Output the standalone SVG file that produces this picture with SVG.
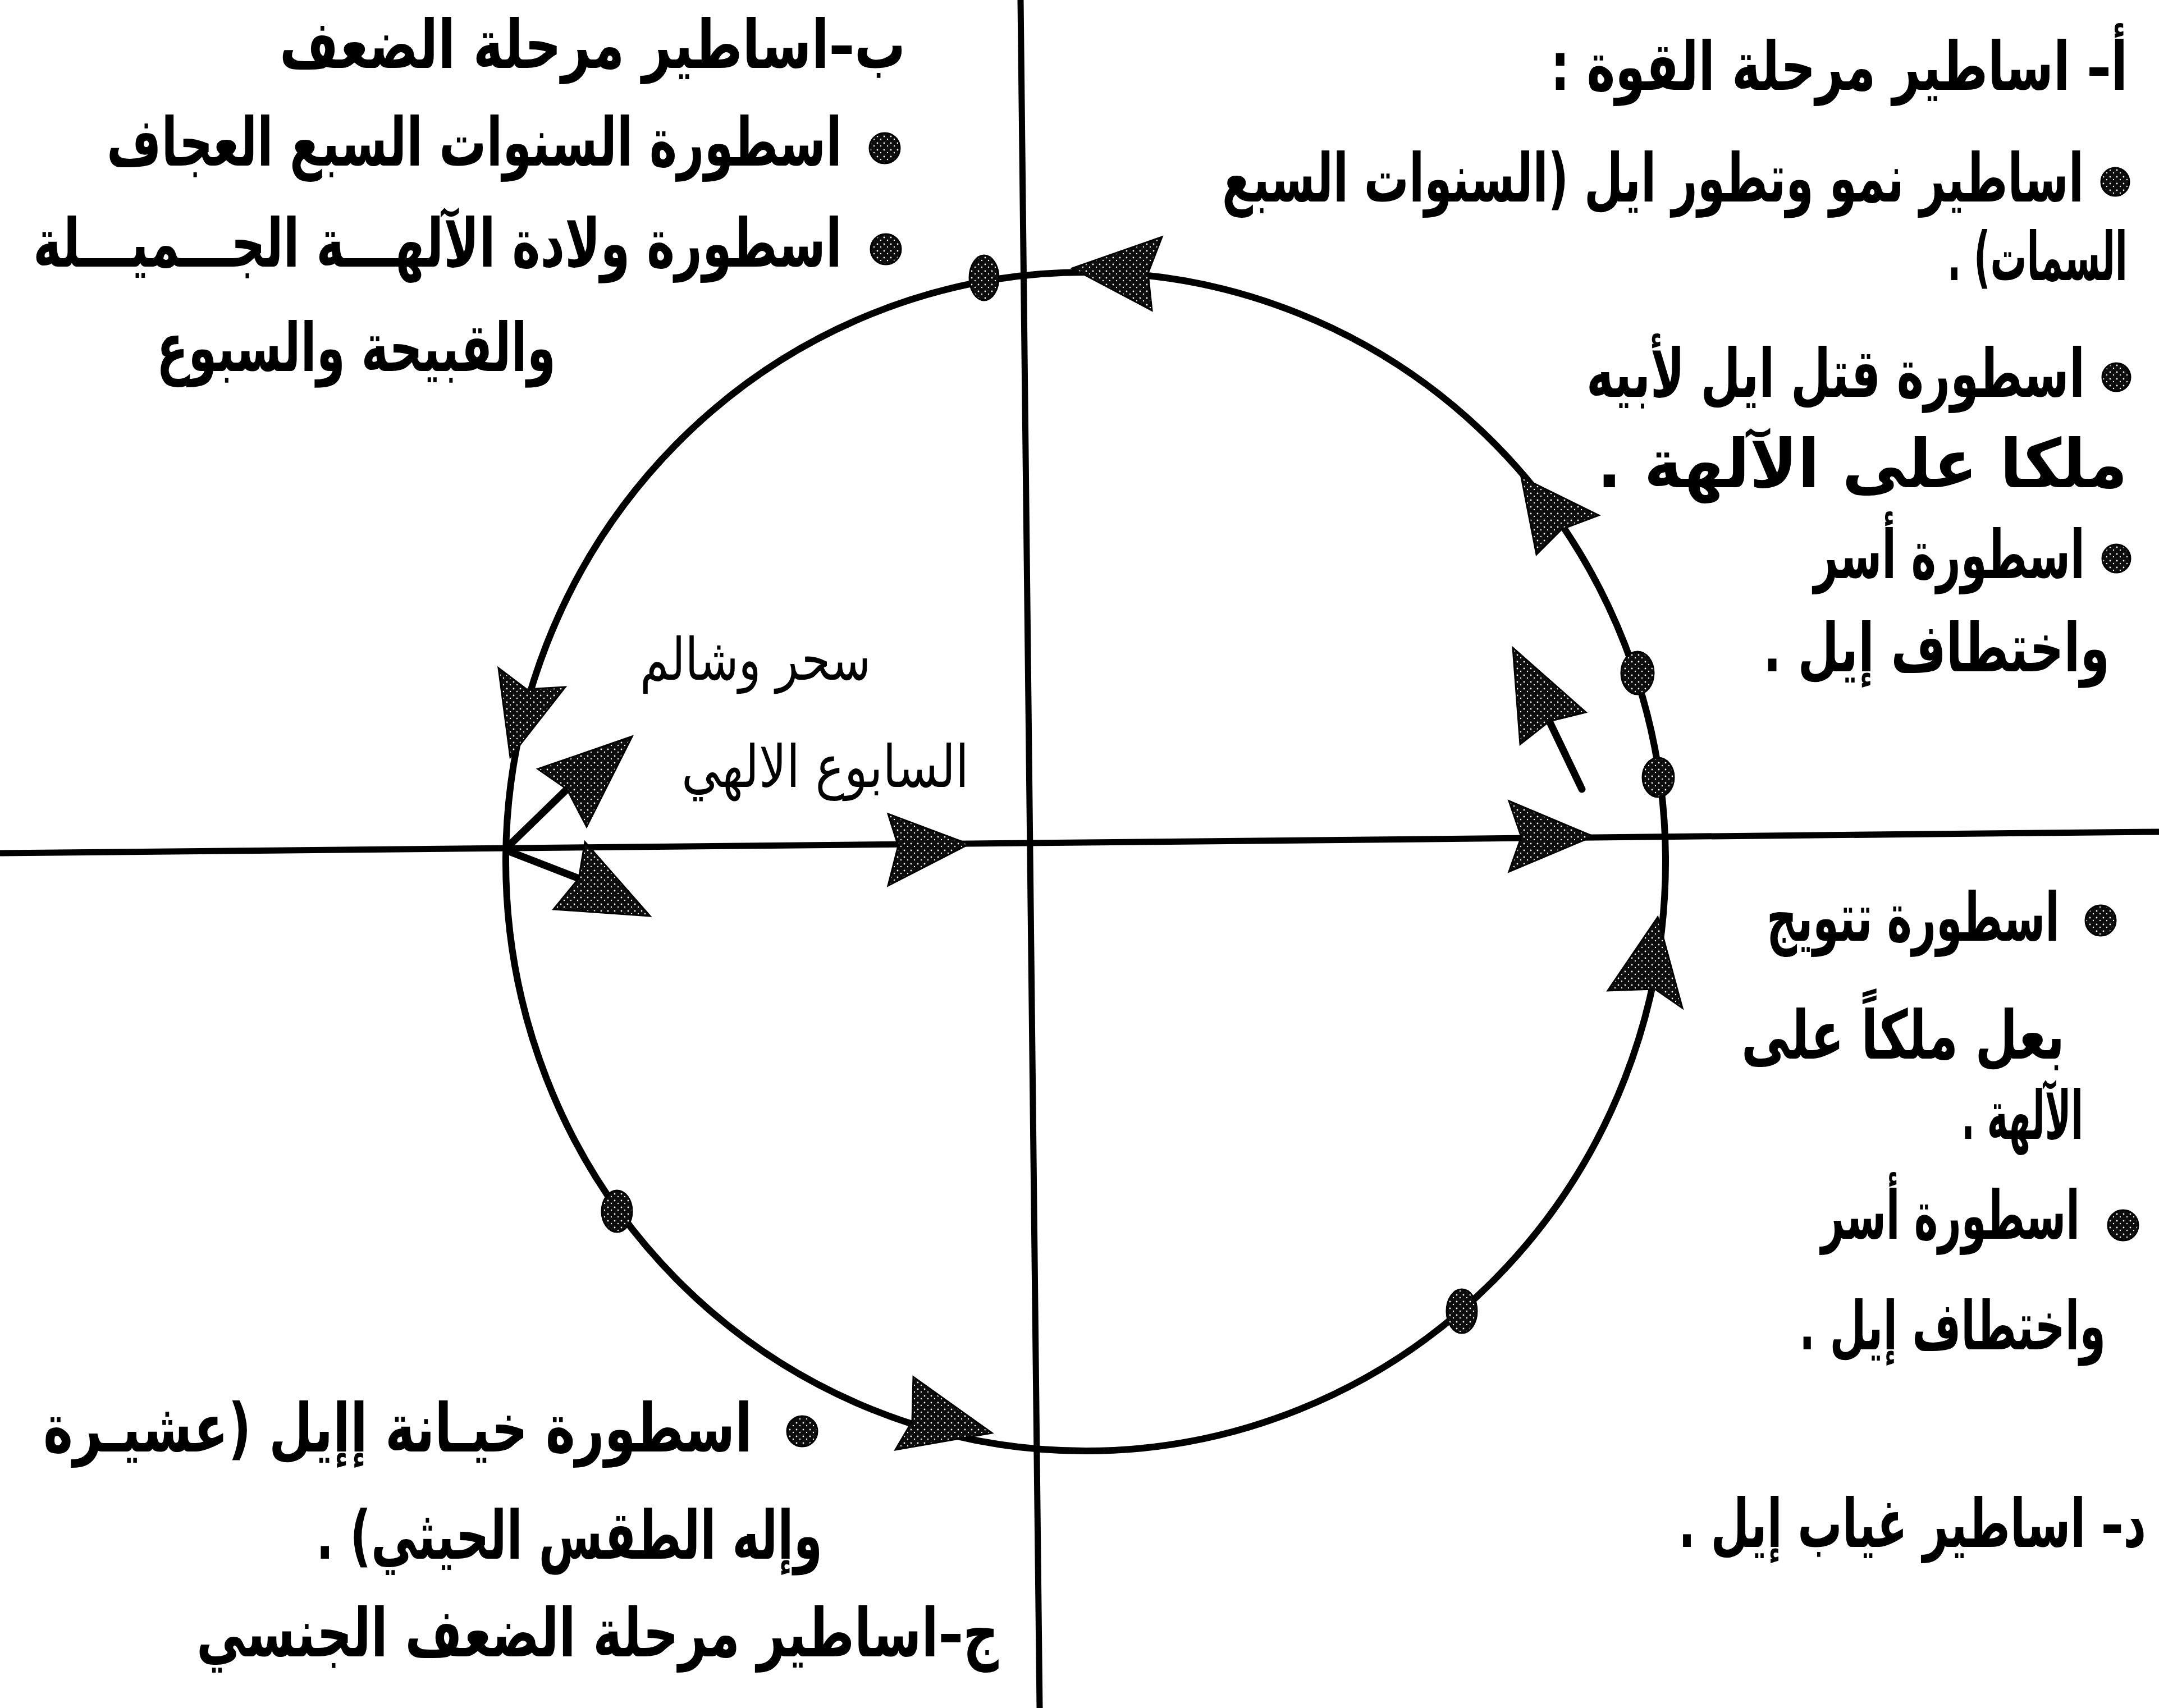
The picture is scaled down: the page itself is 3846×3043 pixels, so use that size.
<svg xmlns="http://www.w3.org/2000/svg" width="3846" height="3043" viewBox="0 0 3846 3043">
<defs>
<pattern id="stip" width="12" height="12" patternUnits="userSpaceOnUse">
<rect width="12" height="12" fill="#0d0d0d"/>
<circle cx="3" cy="3" r="1.4" fill="#fff"/>
<circle cx="9" cy="8" r="1.2" fill="#fff"/>
</pattern>
<style>
.ax{stroke:#000;stroke-width:11;fill:none;stroke-linecap:butt}
.cir{stroke:#000;stroke-width:12;fill:none}
.sh{stroke:#000;stroke-width:13;fill:none;stroke-linecap:round}
.ah{fill:url(#stip);stroke:#000;stroke-width:3;stroke-linejoin:miter}
.dot{fill:url(#stip);stroke:#000;stroke-width:3}
.t{font-family:"DejaVu Sans",sans-serif;font-size:120px;font-weight:bold;fill:#000;text-anchor:end}
.m{font-size:104px;font-weight:normal}
</style>
</defs>
<rect width="3846" height="3043" fill="#fff"/>
<g id="axes">
<line class="ax" x1="0" y1="1520" x2="3846" y2="1482"/>
<line class="ax" x1="1818" y1="0" x2="1852" y2="3043"/>
</g>
<g id="cycle">
<ellipse class="cir" cx="1934" cy="1535" rx="1033" ry="1050"/>
<ellipse class="dot" cx="1753" cy="495" rx="26" ry="40"/>
<ellipse class="dot" cx="2917" cy="1199" rx="29" ry="38"/>
<ellipse class="dot" cx="2954" cy="1385" rx="28" ry="35"/>
<ellipse class="dot" cx="2604" cy="2336" rx="27" ry="39"/>
<ellipse class="dot" cx="1099" cy="2158" rx="27" ry="37"/>
</g>
<g id="connectors">
<polygon class="ah" points="1910,478 2070,422 2045,487 2052,553"/>
<polygon class="ah" points="2710,850 2848,918 2782,943 2737,988"/>
<line class="sh" x1="2760" y1="1285" x2="2818" y2="1406"/>
<polygon class="ah" points="2695,1154 2825,1269 2760,1285 2708,1326"/>
<polygon class="ah" points="2838,1490 2688,1427 2710,1491 2688,1553"/>
<polygon class="ah" points="2953,1634 2997,1796 2948,1762 2864,1765"/>
<polygon class="ah" points="1767,2553 1595,2583 1625,2532 1627,2453"/>
<polygon class="ah" points="909,1349 888,1190 938,1228 1007,1224"/>
<line class="sh" x1="902" y1="1511" x2="1010" y2="1406"/>
<polygon class="ah" points="1126,1312 958,1370 1010,1406 1045,1473"/>
<line class="sh" x1="902" y1="1515" x2="1031" y2="1565"/>
<polygon class="ah" points="1158,1632 986,1620 1031,1565 1042,1500"/>
<polygon class="ah" points="1726,1504 1582,1578 1600,1507 1582,1450"/>
</g>
<g id="node-b">
<text class="t" x="1613" y="121" textLength="1115" lengthAdjust="spacingAndGlyphs">ب–اساطير مرحلة الضعف</text>
<circle class="dot" cx="1576" cy="264" r="27"/>
<text class="t" x="1500" y="295" textLength="1310" lengthAdjust="spacingAndGlyphs">اسطورة السنوات السبع العجاف</text>
<circle class="dot" cx="1578" cy="444" r="27"/>
<text class="t" x="1500" y="475" textLength="1441" lengthAdjust="spacingAndGlyphs">اسطورة ولادة الآلهـــة الجـــميـــلة</text>
<text class="t" x="990" y="661" textLength="711" lengthAdjust="spacingAndGlyphs">والقبيحة والسبوع</text>
</g>
<g id="node-a">
<text class="t" transform="matrix(1 0 0 1.611 3790 160)" x="0" y="0" font-size="74.5" style="font-size:74.5px" textLength="1028" lengthAdjust="spacingAndGlyphs">&#x200F;أ– اساطير مرحلة القوة :&#x200F;</text>
<circle class="dot" cx="3768" cy="324" r="25"/>
<text class="t" transform="matrix(1 0 0 1.683 3712 359)" x="0" y="0" style="font-size:71.3px" textLength="1535" lengthAdjust="spacingAndGlyphs">&#x200F;اساطير نمو وتطور ايل (السنوات السبع&#x200F;</text>
<text class="t" transform="matrix(1 0 0 2.017 3790 499)" x="0" y="0" style="font-size:59.5px" textLength="321" lengthAdjust="spacingAndGlyphs">&#x200F;السمات) .&#x200F;</text>
<circle class="dot" cx="3770" cy="672" r="25"/>
<text class="t" transform="matrix(1 0 0 1.615 3714 707)" x="0" y="0" style="font-size:74.3px" textLength="888" lengthAdjust="spacingAndGlyphs">اسطورة قتل ايل لأبيه</text>
<text class="t" transform="matrix(1 0 0 1.294 3790 868)" x="0" y="0" style="font-size:92.7px" textLength="945" lengthAdjust="spacingAndGlyphs">&#x200F;ملكا على الآلهة .&#x200F;</text>
<circle class="dot" cx="3770" cy="995" r="25"/>
<text class="t" transform="matrix(1 0 0 1.478 3714 1030)" x="0" y="0" style="font-size:81.2px" textLength="483" lengthAdjust="spacingAndGlyphs">اسطورة أسر</text>
<text class="t" transform="matrix(1 0 0 1.515 3758 1196)" x="0" y="0" style="font-size:79.2px" textLength="617" lengthAdjust="spacingAndGlyphs">&#x200F;واختطاف إيل .&#x200F;</text>
</g>
<g id="node-middle">
<text class="t m" x="1551" y="1211" textLength="411" lengthAdjust="spacingAndGlyphs">سحر وشالم</text>
<text class="t m" x="1726" y="1402" textLength="512" lengthAdjust="spacingAndGlyphs">السابوع الالهي</text>
</g>
<g id="node-d">
<circle class="dot" cx="3742" cy="1640" r="27"/>
<text class="t" transform="matrix(1 0 0 1.655 3669 1676)" x="0" y="0" style="font-size:72.5px" textLength="522" lengthAdjust="spacingAndGlyphs">اسطورة تتويج</text>
<text class="t" transform="matrix(1 0 0 1.626 3678 1886)" x="0" y="0" style="font-size:73.8px" textLength="576" lengthAdjust="spacingAndGlyphs">بعل ملكاً على</text>
<text class="t" transform="matrix(1 0 0 2.667 3711 2029)" x="0" y="0" style="font-size:45px" textLength="217" lengthAdjust="spacingAndGlyphs">&#x200F;الآلهة .&#x200F;</text>
<circle class="dot" cx="3782" cy="2183" r="27"/>
<text class="t" transform="matrix(1 0 0 1.565 3705 2207)" x="0" y="0" style="font-size:76.7px" textLength="461" lengthAdjust="spacingAndGlyphs">اسطورة أسر</text>
<text class="t" transform="matrix(1 0 0 1.714 3751 2404)" x="0" y="0" style="font-size:70px" textLength="546" lengthAdjust="spacingAndGlyphs">&#x200F;واختطاف إيل .&#x200F;</text>
<text class="t" transform="matrix(1 0 0 1.727 3823 2756)" x="0" y="0" style="font-size:69.5px" textLength="833" lengthAdjust="spacingAndGlyphs">&#x200F;د– اساطير غياب إيل .&#x200F;</text>
</g>
<g id="node-c">
<circle class="dot" cx="1429" cy="2550" r="27"/>
<text class="t" x="1340" y="2586" textLength="1263" lengthAdjust="spacingAndGlyphs">&#x200F;اسطورة خيـانة إإيل (عشيـرة&#x200F;</text>
<text class="t" x="1465" y="2777" textLength="902" lengthAdjust="spacingAndGlyphs">&#x200F;وإله الطقس الحيثي) .&#x200F;</text>
<text class="t" x="1779" y="2951" textLength="1429" lengthAdjust="spacingAndGlyphs">ج–اساطير مرحلة الضعف الجنسي</text>
</g>
</svg>
